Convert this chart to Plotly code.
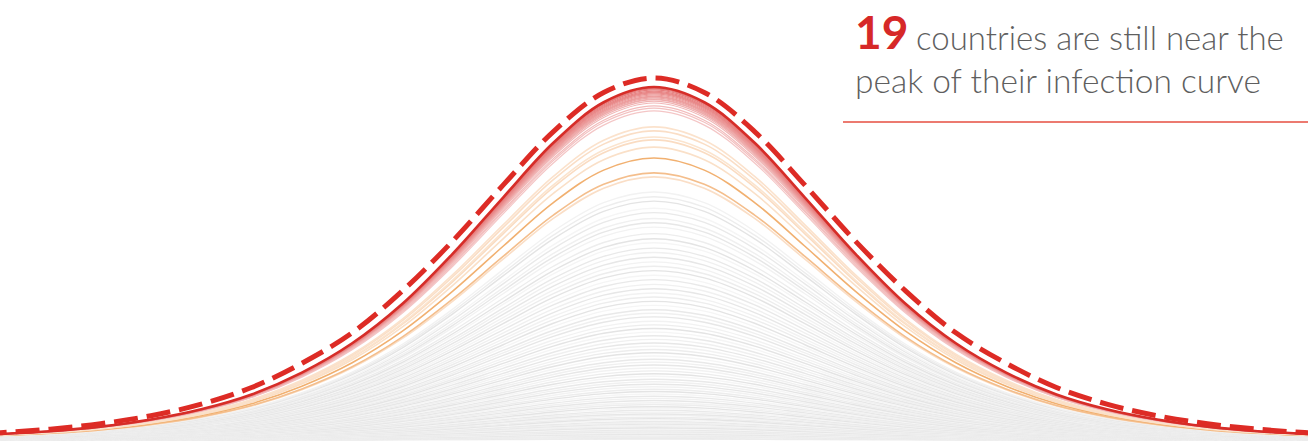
import plotly.graph_objects as go

# Curve profiles (x in days from the peak)
profile_x = list(range(-14, 15))
# dashed reference curve (slightly wider)
reference_profile = [0.014, 0.020, 0.030, 0.045, 0.067, 0.099, 0.145, 0.212, 0.296, 0.412,
                     0.550, 0.704, 0.852, 0.960, 1.000, 0.960, 0.852, 0.704, 0.550, 0.412,
                     0.296, 0.212, 0.145, 0.099, 0.067, 0.045, 0.030, 0.020, 0.014]
# country curves
country_profile = [0.011, 0.017, 0.025, 0.038, 0.058, 0.087, 0.129, 0.191, 0.274, 0.386,
                   0.528, 0.687, 0.842, 0.957, 1.000, 0.957, 0.842, 0.687, 0.528, 0.386,
                   0.274, 0.191, 0.129, 0.087, 0.058, 0.038, 0.025, 0.017, 0.011]

# Peak heights (relative to the dashed reference curve = 1.0)
reference_height = 1.0
red_heights = [0.909, 0.917, 0.923, 0.931, 0.936, 0.940, 0.942, 0.945, 0.948, 0.950,
               0.953, 0.956, 0.959, 0.961, 0.964, 0.967, 0.970, 0.972, 0.975]
orange_heights = [0.727, 0.738, 0.779, 0.809, 0.829, 0.837, 0.854, 0.865]
gray_heights = [0.002, 0.003, 0.004, 0.005, 0.006, 0.007, 0.009, 0.010, 0.012, 0.014,
                0.016, 0.018, 0.020, 0.023, 0.025, 0.028, 0.031, 0.034, 0.037, 0.040,
                0.044, 0.047, 0.051, 0.055, 0.059, 0.063, 0.068, 0.072, 0.077, 0.082,
                0.087, 0.092, 0.098, 0.103, 0.109, 0.115, 0.121, 0.127, 0.134, 0.140,
                0.147, 0.154, 0.161, 0.168, 0.176, 0.183, 0.191, 0.199, 0.207, 0.215,
                0.223, 0.232, 0.241, 0.250, 0.259, 0.268, 0.278, 0.288, 0.298, 0.308,
                0.318, 0.328, 0.340, 0.350, 0.360, 0.372, 0.383, 0.395, 0.406, 0.418,
                0.430, 0.443, 0.455, 0.468, 0.480, 0.492, 0.505, 0.518, 0.530, 0.545,
                0.556, 0.570, 0.588, 0.600, 0.612, 0.628, 0.640, 0.660, 0.672, 0.685]

headline_number = "19"
headline_line1 = "countries are still near the"
headline_line2 = "peak of their infection curve"

fig = go.Figure()

def add_curve(h, prof, color, width, dash=None):
    fig.add_trace(go.Scatter(
        x=profile_x, y=[h * v for v in prof], mode="lines",
        line=dict(color=color, width=width, shape="spline", smoothing=1.0, dash=dash),
        hoverinfo="skip", showlegend=False))

gray_shades = [240, 233, 245, 228, 237, 242, 231]
for i, h in enumerate(gray_heights):
    s = gray_shades[i % len(gray_shades)]
    add_curve(h, country_profile, f"rgb({s},{s},{s})", 1.4)

orange_colors = ["rgb(250,222,198)", "rgb(244,190,140)", "rgb(241,176,112)",
                 "rgb(250,224,200)", "rgb(250,220,194)", "rgb(251,228,206)",
                 "rgb(250,222,198)", "rgb(251,226,204)"]
for i, h in enumerate(orange_heights):
    add_curve(h, country_profile, orange_colors[i], 1.6)

n = len(red_heights)
for i, h in enumerate(red_heights):
    t = i / (n - 1)
    if i == n - 1:
        add_curve(h, country_profile, "rgb(214,45,40)", 2.6)
    else:
        r = int(244 + (228 - 244) * t)
        g = int(198 + (112 - 198) * t)
        b = int(198 + (112 - 198) * t)
        add_curve(h, country_profile, f"rgb({r},{g},{b})", 1.2)

add_curve(reference_height, reference_profile, "rgb(221,43,37)", 5, dash="24px,9px")

W, H = 1308, 445

def px(xp, yp):
    return xp / W, 1 - yp / H

font_family = "Lato"
x0, y0 = px(853, 50)
fig.add_annotation(x=x0, y=y0, xref="paper", yref="paper", xanchor="left", yanchor="bottom",
                   text=f"<b>{headline_number}</b>", showarrow=False, yshift=-11,
                   font=dict(family=font_family, size=46, color="rgb(214,40,40)"))
x1, y1 = px(914, 50)
fig.add_annotation(x=x1, y=y1, xref="paper", yref="paper", xanchor="left", yanchor="bottom",
                   text=headline_line1, showarrow=False, yshift=-9,
                   font=dict(family=font_family, size=33, color="rgb(95,95,95)", weight=300))
x2, y2 = px(853, 93)
fig.add_annotation(x=x2, y=y2, xref="paper", yref="paper", xanchor="left", yanchor="bottom",
                   text=headline_line2, showarrow=False, yshift=-9,
                   font=dict(family=font_family, size=33.5, color="rgb(95,95,95)", weight=300))

fig.add_shape(type="line", xref="paper", yref="paper",
              x0=843 / W, x1=1.0, y0=1 - 122 / H, y1=1 - 122 / H,
              line=dict(color="rgb(236,122,112)", width=2))

fig.update_layout(
    width=W, height=H, margin=dict(l=0, r=0, t=0, b=0),
    paper_bgcolor="white", plot_bgcolor="white",
    xaxis=dict(range=[-13, 13], visible=False, fixedrange=True),
    yaxis=dict(range=[-5 / 362, 440 / 362], visible=False, fixedrange=True),
)

fig.write_html("out.html", config={"displayModeBar": False},
               post_script="document.body.style.margin='0px';document.body.style.overflow='hidden';")
